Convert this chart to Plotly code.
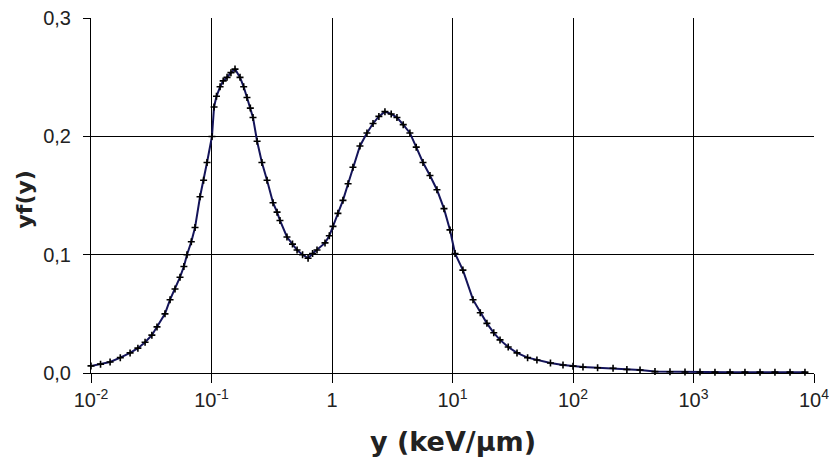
import plotly.graph_objects as go

# Lineal energy y (keV/µm) and yf(y)
y_kev_um = [0.0100, 0.0120, 0.0144, 0.0175, 0.0211, 0.0245, 0.0281, 0.0320, 0.0353, 0.0411, 0.0453, 0.0498, 0.0548,
            0.0590, 0.0626, 0.0680, 0.0730, 0.0803, 0.0860, 0.0918, 0.1009, 0.105, 0.110, 0.1178, 0.125, 0.1346, 0.145, 0.1567,
            0.1725, 0.185, 0.197, 0.210, 0.221, 0.239, 0.262, 0.289, 0.324, 0.350, 0.370, 0.423, 0.470, 0.513,
            0.570, 0.633, 0.690, 0.751, 0.875, 0.95, 1.019, 1.12, 1.233, 1.36, 1.492, 1.706, 1.95, 2.19, 2.45, 2.75,
            3.10, 3.46, 3.90, 4.43, 5.0, 5.69, 6.5, 7.43, 8.5, 9.53, 10.5, 12.2, 14.8, 17.0, 19.3, 22.0, 24.8,
            29.0, 34.3, 42.0, 50.2, 65.0, 82.6, 100, 121, 160, 215, 280, 360,
            479, 638, 850, 1132, 1507, 2009, 2673, 3565, 4742, 6324, 8414]
yf_y = [0.006, 0.0075, 0.0093, 0.013, 0.017, 0.021, 0.026, 0.032, 0.039, 0.050, 0.062, 0.071, 0.081,
        0.090, 0.100, 0.111, 0.123, 0.149, 0.163, 0.178, 0.200, 0.225, 0.234, 0.242, 0.247, 0.250, 0.254, 0.257,
        0.250, 0.242, 0.233, 0.224, 0.216, 0.196, 0.178, 0.163, 0.144, 0.136, 0.129, 0.115, 0.109, 0.104,
        0.100, 0.097, 0.101, 0.104, 0.110, 0.116, 0.124, 0.135, 0.146, 0.160, 0.174, 0.192, 0.203, 0.211, 0.217, 0.221,
        0.219, 0.216, 0.210, 0.203, 0.191, 0.178, 0.167, 0.155, 0.139, 0.121, 0.101, 0.087, 0.062, 0.051, 0.042, 0.034, 0.028,
        0.022, 0.017, 0.013, 0.011, 0.0085, 0.0068, 0.0058, 0.005, 0.0045, 0.004, 0.003, 0.0025,
        0.0012, 0.001, 0.0008, 0.0008, 0.0007, 0.0007, 0.0007, 0.0007, 0.0007, 0.0007, 0.0007]

x_tickvals = [0.01, 0.1, 1, 10, 100, 1000, 10000]
x_ticktext = ["10<sup>-2</sup>", "10<sup>-1</sup>", "1", "10<sup>1</sup>",
              "10<sup>2</sup>", "10<sup>3</sup>", "10<sup>4</sup>"]
y_tickvals = [0.0, 0.1, 0.2, 0.3]
y_ticktext = ["0,0", "0,1", "0,2", "0,3"]
x_title = "y (keV/µm)"
y_title = "yf(y)"

fig = go.Figure()
fig.add_trace(go.Scatter(
    x=y_kev_um, y=yf_y, mode="lines+markers",
    line=dict(color="#14145a", width=2),
    marker=dict(symbol="cross-thin", size=5, line=dict(color="black", width=1.6), color="black"),
    showlegend=False, cliponaxis=False,
))

tick_font = dict(family="Liberation Sans, Arial, sans-serif", color="#222", size=20)
x_title_font = dict(family="DejaVu Sans, Verdana, sans-serif", color="#222", size=27)
y_title_font = dict(family="DejaVu Sans, Verdana, sans-serif", color="#222", size=22)

# page body has an 8px margin: figure sized to fit the window
fig.update_layout(
    width=829, height=465,
    margin=dict(l=83, r=23, t=10, b=100),
    paper_bgcolor="white", plot_bgcolor="white",
    font=tick_font,
    xaxis=dict(
        type="log", range=[-2, 4], automargin=False,
        tickvals=x_tickvals, ticktext=x_ticktext, tickfont=tick_font,
        showgrid=True, gridcolor="black", gridwidth=1,
        showline=True, linecolor="black", linewidth=1,
        ticks="outside", ticklen=9, tickcolor="black", tickwidth=1,
        ticklabelstandoff=0, ticklabeloverflow="allow",
        zeroline=False,
    ),
    yaxis=dict(
        range=[0, 0.3002], automargin=False,
        tickvals=y_tickvals, ticktext=y_ticktext, tickfont=tick_font,
        showgrid=True, gridcolor="black", gridwidth=1,
        showline=True, linecolor="black", linewidth=1,
        ticks="outside", ticklen=7, tickcolor="black", tickwidth=1,
        ticklabelstandoff=8, ticklabeloverflow="allow",
        zeroline=False,
    ),
    annotations=[
        dict(text="<b>" + x_title + "</b>", xref="paper", yref="paper", x=0.5, y=0,
             xanchor="center", yanchor="middle", yshift=-68, showarrow=False, font=x_title_font),
        dict(text="<b>" + y_title + "</b>", xref="paper", yref="paper", x=0, y=0.5,
             xanchor="center", yanchor="middle", xshift=-67, yshift=-4, textangle=-90,
             showarrow=False, font=y_title_font),
    ],
)
fig.write_html("out.html")
